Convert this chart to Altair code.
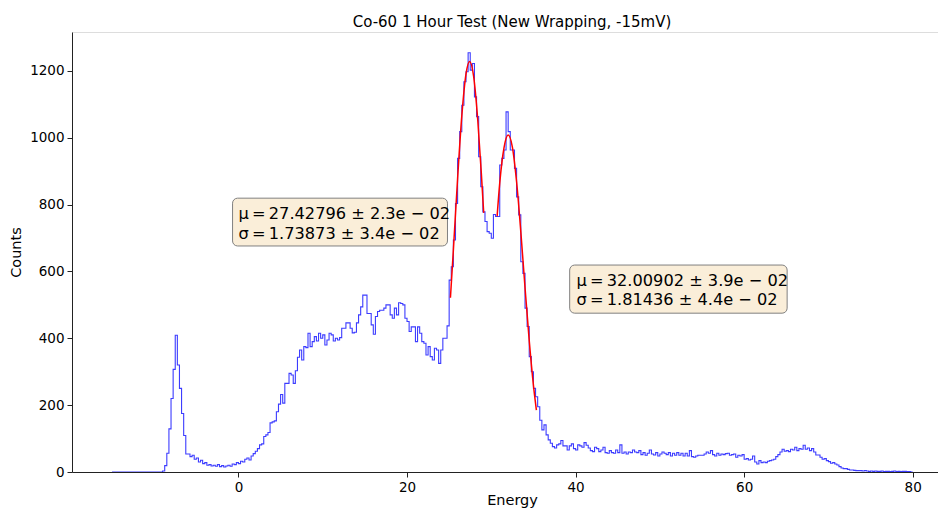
import altair as alt
import pandas as pd

# ---------------- data ----------------
bin_start = -15.0
bin_width = 0.25
# histogram counts, 4 bins per unit of energy, from -15 to 80
counts = (
    [0] * 24 +
    [3, 19, 56, 129,      # -9
     220, 307, 409, 320,  # -8
     250, 175, 109, 54,   # -7
     54, 46, 50, 38,      # -6
     42, 30, 35, 25,      # -5
     28, 20, 22, 18,      # -4
     20, 17, 22, 16,      # -3
     19, 15, 18, 20,      # -2
     17, 24, 22, 28,      # -1
     25, 32, 30, 38,      # 0
     42, 36, 48, 55,      # 1
     62, 70, 81, 84,      # 2
     106, 111, 118, 147,  # 3
     150, 153, 180, 203,  # 4
     232, 206, 265, 265,  # 5
     295, 290, 265, 303,  # 6
     343, 365, 335, 375,  # 7
     372, 415, 375, 390,  # 8
     405, 392, 415, 400,  # 9
     410, 380, 395, 415,  # 10
     410, 392, 400, 395,  # 11
     402, 430, 430, 446,  # 12
     446, 430, 416, 418,  # 13
     446, 470, 494, 529,  # 14
     529, 474, 474, 440,  # 15
     412, 465, 480, 484,  # 16
     484, 490, 500, 500,  # 17
     470, 460, 490, 470,  # 18
     506, 504, 500, 460,  # 19
     450, 420, 434, 434,  # 20
     390, 434, 415, 390,  # 21
     385, 350, 375, 345,  # 22
     335, 370, 365, 325,  # 23
     365, 400, 400, 437,  # 24
     574, 614, 694, 803,  # 25
     938, 1018, 1097, 1167,  # 26
     1197, 1254, 1202, 1222,  # 27
     1122, 1063, 943, 853,  # 28
     778, 749, 719, 714,  # 29
     699, 770, 764, 764,  # 30
     918, 938, 963, 1077,  # 31
     1018, 963, 963, 908,  # 32
     823, 769, 629, 594,  # 33
     490, 435, 345, 300,  # 34
     250, 225, 195, 155,  # 35
     126, 141, 111, 96,   # 36
     86, 76, 72, 81,      # 37
     84, 94, 78, 78,      # 38
     66, 78, 84, 70,      # 39
     66, 81, 78, 74,      # 40
     88, 80, 72, 64,      # 41
     61, 74, 70, 61,      # 42
     66, 74, 58, 56,      # 43
     64, 58, 56, 66,      # 44
     58, 81, 56, 60,      # 45
     54, 60, 58, 66,      # 46
     60, 58, 64, 52,      # 47
     58, 50, 56, 66,      # 48
     54, 51, 58, 48,      # 49
     54, 60, 56, 52,      # 50
     58, 48, 56, 50,      # 51
     58, 50, 56, 48,      # 52
     56, 48, 64, 46,      # 53
     44, 48, 50, 50,      # 54
     50, 54, 60, 56,      # 55
     64, 52, 48, 56,      # 56
     50, 54, 52, 55,      # 57
     56, 50, 52, 54,      # 58
     44, 50, 48, 52,      # 59
     38, 40, 36, 38,      # 60
     48, 30, 24, 34,      # 61
     28, 30, 28, 32,      # 62
     34, 36, 38, 46,      # 63
     52, 60, 68, 62,      # 64
     64, 61, 68, 66,      # 65
     74, 64, 70, 68,      # 66
     80, 68, 72, 64,      # 67
     70, 60, 51, 51,      # 68
     44, 38, 40, 34,      # 69
     31, 26, 28, 24,      # 70
     21, 16, 12, 10,      # 71
     10, 8, 6, 6,         # 72
     5, 4, 4, 4,          # 73
     3, 4, 3, 2,          # 74
     3, 2, 3, 2,          # 75
     2, 3, 1, 2,          # 76
     2, 1, 2, 3,          # 77
     1, 2, 1, 2,          # 78
     2, 1, 1, 0]          # 79
)

# red fit curves
fit1_energy = [25.15, 25.5, 26.0, 26.5, 27.0, 27.43, 27.9, 28.4, 28.8, 29.1]
fit1_counts = [521, 664, 877, 1065, 1191, 1228, 1184, 1050, 900, 775]
fit2_energy = [30.69, 31.0, 31.5, 32.0, 32.5, 33.0, 33.5, 34.0, 34.5, 35.0, 35.35]
fit2_counts = [765, 864, 969, 1008, 972, 868, 719, 552, 393, 259, 185]

# annotation boxes (data coordinates)
box_x1 = [-0.7, 39.3]
box_x2 = [24.8, 65.1]
box_y1 = [819, 619]
box_y2 = [676, 475]
label_x = [0.0, 0.0, 40.1, 40.1]
label_y = [772, 713, 572, 513]
label_text = ["μ\u2009=\u200927.42796 ± 2.3e − 02", "σ\u2009=\u20091.73873 ± 3.4e − 02",
              "μ\u2009=\u200932.00902 ± 3.9e − 02", "σ\u2009=\u20091.81436 ± 4.4e − 02"]

x_ticks = [0, 20, 40, 60, 80]
y_ticks = [0, 200, 400, 600, 800, 1000, 1200]
x_domain = [-19.75, 83.0]
y_domain = [0, 1316]

# ---------------- tables ----------------
edges = [bin_start + bin_width * i for i in range(len(counts))]
right_edge = bin_start + bin_width * len(counts)
hist_df = pd.DataFrame({
    "energy": edges + [right_edge, right_edge],
    "counts": counts + [counts[-1], 0],
})
hist_df["idx"] = range(len(hist_df))

fit_df = pd.DataFrame({
    "energy": fit1_energy + fit2_energy,
    "counts": fit1_counts + fit2_counts,
    "curve": ["g1"] * len(fit1_energy) + ["g2"] * len(fit2_energy),
})
box_df = pd.DataFrame({"x1": box_x1, "x2": box_x2, "y1": box_y1, "y2": box_y2})
label_df = pd.DataFrame({"x": label_x, "y": label_y, "text": label_text})

FONT = "DejaVu Sans"

x_scale = alt.Scale(domain=x_domain, nice=False, zero=False)
y_scale = alt.Scale(domain=y_domain, nice=False, zero=False)

x_axis = alt.Axis(values=x_ticks, title="Energy", grid=False, tickSize=5,
                  labelFontSize=13.5, titleFontSize=14.5, labelFont=FONT, titleFont=FONT,
                  titleFontWeight="normal", labelColor="black", titleColor="black",
                  domainColor="#222", tickColor="#222", labelPadding=3, titlePadding=0,
                  titleX=440, titleAlign="center", format="d")
y_axis = alt.Axis(values=y_ticks, title="Counts", grid=False, tickSize=5,
                  labelFontSize=13.5, titleFontSize=14.5, labelFont=FONT, titleFont=FONT,
                  titleFontWeight="normal", labelColor="black", titleColor="black",
                  domainColor="#222", tickColor="#222", labelPadding=3, titlePadding=6,
                  format="d")

hist = alt.Chart(hist_df).mark_line(
    interpolate="step-after", color="#3c3cff", strokeWidth=1.1, clip=True
).encode(
    x=alt.X("energy:Q", scale=x_scale, axis=x_axis),
    y=alt.Y("counts:Q", scale=y_scale, axis=y_axis),
    order="idx:Q",
)

fit = alt.Chart(fit_df).mark_line(
    color="red", strokeWidth=1.5, interpolate="monotone", clip=True
).encode(
    x=alt.X("energy:Q", scale=x_scale),
    y=alt.Y("counts:Q", scale=y_scale),
    detail="curve:N",
)

boxes = alt.Chart(box_df).mark_rect(
    fill="#faeed9", stroke="#808080", strokeWidth=1, cornerRadius=5
).encode(
    x=alt.X("x1:Q", scale=x_scale), x2="x2:Q",
    y=alt.Y("y1:Q", scale=y_scale), y2="y2:Q",
)

labels = alt.Chart(label_df).mark_text(
    align="left", baseline="middle", font=FONT, fontSize=16.2, color="black"
).encode(
    x=alt.X("x:Q", scale=x_scale),
    y=alt.Y("y:Q", scale=y_scale),
    text="text:N",
)

chart = alt.layer(hist, fit, boxes, labels).properties(
    width=866,
    height=440,
    title=alt.TitleParams(
        "Co-60 1 Hour Test (New Wrapping, -15mV)", font=FONT, fontSize=15,
        fontWeight="normal", anchor="middle", frame="group", dx=7, offset=2,
        color="black",
    ),
    autosize=alt.AutoSizeParams(type="none"),
    padding={"left": 72, "top": 32, "right": 0, "bottom": 38},
).configure_view(stroke="#222", strokeWidth=1).configure(background="white")

chart.save("out.html", embed_options={"renderer": "svg", "actions": False})
